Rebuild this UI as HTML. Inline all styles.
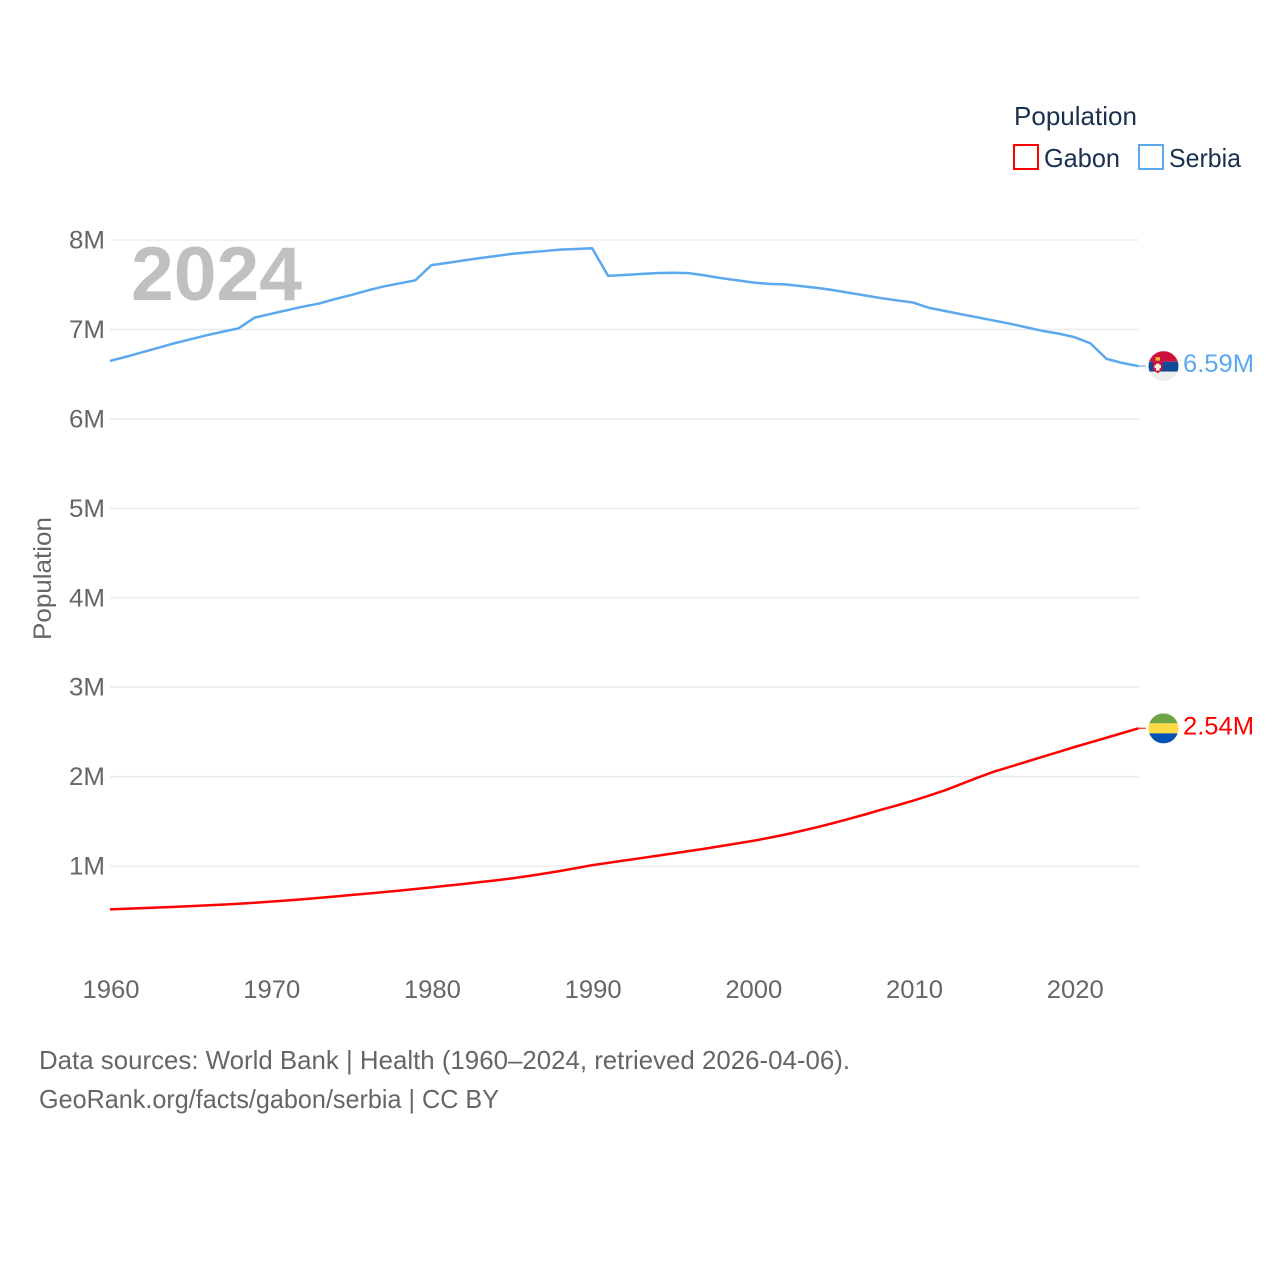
<!DOCTYPE html>
<html lang="en">
<head>
<meta charset="utf-8">
<title>Population: Gabon and Serbia</title>
<style>
html,body{margin:0;padding:0;background:#fff;width:1280px;height:1280px;overflow:hidden}
svg{display:block;font-family:"Liberation Sans",sans-serif}
</style>
</head>
<body>
<svg id="chart" xmlns="http://www.w3.org/2000/svg" width="1280" height="1280" viewBox="0 0 1280 1280">
  <rect width="1280" height="1280" fill="#fff"/>
  <g id="grid"></g>
  <g id="yticks"></g>
  <g id="xticks"></g>
  <text id="watermark" x="131" y="300" font-size="76" font-weight="700" fill="#c0c0c0" textLength="171" lengthAdjust="spacingAndGlyphs">2024</text>
  <g id="series"></g>
  <text transform="translate(51,640) rotate(-90)" font-size="25" fill="#666" textLength="123" lengthAdjust="spacingAndGlyphs">Population</text>

  <g>
    <text x="1014" y="125" font-size="26" fill="#1a3050" textLength="123" lengthAdjust="spacingAndGlyphs">Population</text>
    <g>
      <rect x="1014" y="145" width="24" height="24" fill="none" stroke="#ff0000" stroke-width="2"/>
      <text x="1044" y="167" font-size="26" fill="#1a3050" textLength="76" lengthAdjust="spacingAndGlyphs">Gabon</text>
    </g>
    <g>
      <rect x="1139" y="145" width="24" height="24" fill="none" stroke="#5ba8ee" stroke-width="2"/>
      <text x="1169" y="167" font-size="26" fill="#1a3050" textLength="72" lengthAdjust="spacingAndGlyphs">Serbia</text>
    </g>
  </g>

  <defs>
    <clipPath id="clip-flag"><circle cx="0" cy="0" r="15"/></clipPath>
  </defs>
  <g id="flag-serbia">
    <g clip-path="url(#clip-flag)">
      <rect x="-15" y="-15" width="30" height="10.500" fill="#d0103a"/>
      <rect x="-15" y="-4.500" width="30" height="10" fill="#0f4a96"/>
      <rect x="-15" y="5.500" width="30" height="10" fill="#eeeeee"/>
      <path d="M-10.500-4.500h9.500v8.500l-4.750 3-4.750-3z" fill="#d0103a"/>
      <path d="M-7.500-2.500h3.500v7h-3.500z" fill="#f6efe6"/>
      <path d="M-9-1h6.500v3h-6.500z" fill="#f6efe6"/>
      <rect x="-8" y="-9" width="4.500" height="3.500" fill="#e8b33a"/>
    </g>
  </g>
  <g id="flag-gabon">
    <g clip-path="url(#clip-flag)">
      <rect x="-15" y="-15" width="30" height="10" fill="#6da544"/>
      <rect x="-15" y="-5" width="30" height="10" fill="#ffda44"/>
      <rect x="-15" y="5" width="30" height="10" fill="#0052b4"/>
    </g>
  </g>
  <g id="end-labels"></g>

  <g>
    <text x="39" y="1069" font-size="26" fill="#666" textLength="811" lengthAdjust="spacingAndGlyphs">Data sources: World Bank | Health (1960–2024, retrieved 2026-04-06).</text>
    <text x="39" y="1108" font-size="26" fill="#666" textLength="460" lengthAdjust="spacingAndGlyphs">GeoRank.org/facts/gabon/serbia | CC BY</text>
  </g>
</svg>
<script>
const years = [1960,1961,1962,1963,1964,1965,1966,1967,1968,1969,1970,1971,1972,1973,1974,1975,1976,1977,1978,1979,1980,1981,1982,1983,1984,1985,1986,1987,1988,1989,1990,1991,1992,1993,1994,1995,1996,1997,1998,1999,2000,2001,2002,2003,2004,2005,2006,2007,2008,2009,2010,2011,2012,2013,2014,2015,2016,2017,2018,2019,2020,2021,2022,2023,2024];
const serbiaValues = [6.648,6.695,6.745,6.795,6.845,6.89,6.935,6.975,7.013,7.133,7.174,7.215,7.255,7.29,7.34,7.385,7.435,7.48,7.515,7.55,7.72,7.745,7.772,7.798,7.822,7.845,7.862,7.877,7.893,7.90,7.908,7.60,7.61,7.62,7.63,7.635,7.63,7.605,7.575,7.55,7.525,7.51,7.505,7.485,7.465,7.44,7.41,7.38,7.35,7.325,7.30,7.24,7.205,7.17,7.135,7.10,7.065,7.025,6.985,6.955,6.915,6.846,6.673,6.625,6.59];
const gabonValues = [0.516,0.523,0.53,0.537,0.544,0.552,0.56,0.569,0.579,0.59,0.602,0.615,0.629,0.644,0.66,0.676,0.692,0.708,0.725,0.743,0.762,0.781,0.80,0.82,0.84,0.862,0.888,0.915,0.945,0.977,1.01,1.036,1.062,1.088,1.114,1.141,1.167,1.194,1.223,1.252,1.282,1.315,1.352,1.392,1.435,1.48,1.528,1.578,1.63,1.68,1.733,1.79,1.85,1.92,1.99,2.055,2.11,2.165,2.22,2.275,2.33,2.382,2.435,2.488,2.54];
const yTickValues = [1,2,3,4,5,6,7,8];
const yTickLabels = ['1M','2M','3M','4M','5M','6M','7M','8M'];
const xTickValues = [1960,1970,1980,1990,2000,2010,2020];

const NS = 'http://www.w3.org/2000/svg';
const xAxis = v => 110 + (v - 1960) * (1138.5 - 110) / 64;
const yAxis = v => 955.5 - v * 89.43;

function make(parent, tag, attrs, text) {
  const el = document.createElementNS(NS, tag);
  for (const k in attrs) el.setAttribute(k, attrs[k]);
  if (text !== undefined) el.textContent = text;
  document.getElementById(parent).appendChild(el);
  return el;
}

yTickValues.forEach((v, i) => {
  const line = make('grid', 'line', {x1: 110, x2: 1138.5, y1: yAxis(v), y2: yAxis(v), stroke: '#ebebeb', 'stroke-width': 1.5});
  
  
  const label = make('yticks', 'text', {x: 105, y: yAxis(v) + 8.500, 'text-anchor': 'end', 'font-size': 25, fill: '#666', textLength: 36, lengthAdjust: 'spacingAndGlyphs'}, yTickLabels[i]);
  
  
});

xTickValues.forEach(v => {
  const label = make('xticks', 'text', {x: xAxis(v) + 1, y: 998, 'text-anchor': 'middle', 'font-size': 25, fill: '#666', textLength: 57, lengthAdjust: 'spacingAndGlyphs'}, String(v));
  
  
});

function pathFrom(values) {
  return values.map((v, i) => (i ? 'L' : 'M') + xAxis(years[i]).toFixed(2) + ' ' + yAxis(v).toFixed(2)).join('');
}

function drawSeries(values, color, flagId, name) {
  const lastV = values[values.length - 1];
  const lastX = xAxis(years[years.length - 1]);
  const lastY = yAxis(lastV);
  const connector = make('series', 'line', {x1: lastX, x2: 1146, y1: lastY, y2: lastY, stroke: color, 'stroke-width': 1.5, opacity: 0.7});
  
  
  const line = make('series', 'path', {d: pathFrom(values), fill: 'none', stroke: color, 'stroke-width': 2.5, 'stroke-linejoin': 'round'});
  
  
  document.getElementById(flagId).setAttribute('transform', 'translate(1163.5,' + lastY + ')');
  const label = make('end-labels', 'text', {x: 1183, y: lastY + 6, 'font-size': 25, fill: color, textLength: 71, lengthAdjust: 'spacingAndGlyphs'}, lastV.toFixed(2) + 'M');
  
  
}

drawSeries(serbiaValues, '#5ba8ee', 'flag-serbia', 'serbia');
drawSeries(gabonValues, '#ff0000', 'flag-gabon', 'gabon');
</script>
</body>
</html>
